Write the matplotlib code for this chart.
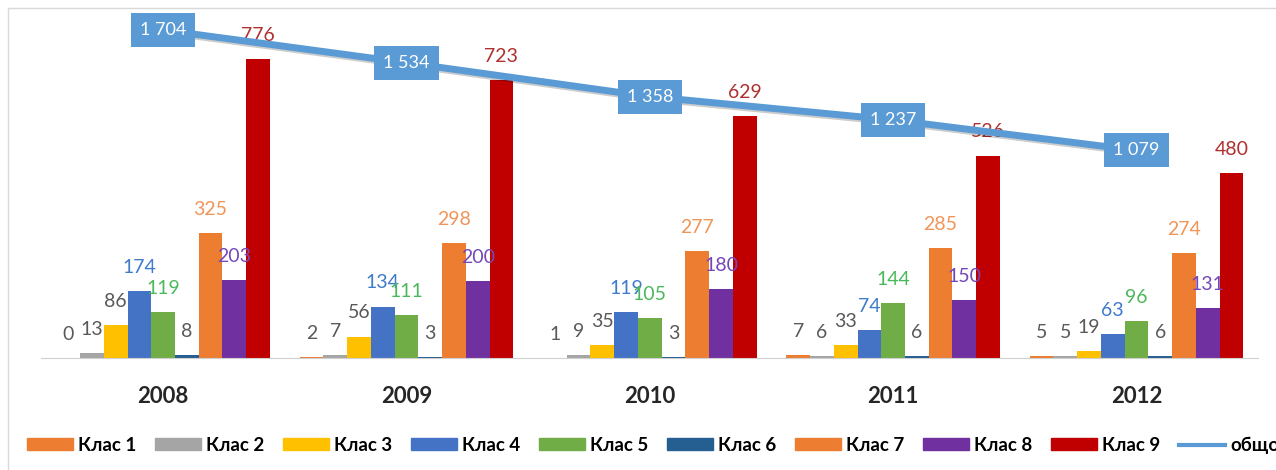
import numpy as np
import matplotlib
matplotlib.use('Agg')
import matplotlib.pyplot as plt
from matplotlib.patches import Rectangle, Patch
from matplotlib.lines import Line2D
import matplotlib.patheffects as pe

plt.rcParams['font.family'] = ['Lato', 'Open Sans', 'DejaVu Sans']

# данни
years = ['2008', '2009', '2010', '2011', '2012']
klas_names = ['Клас 1', 'Клас 2', 'Клас 3', 'Клас 4', 'Клас 5',
              'Клас 6', 'Клас 7', 'Клас 8', 'Клас 9']
klas1 = [0, 2, 1, 7, 5]
klas2 = [13, 7, 9, 6, 5]
klas3 = [86, 56, 35, 33, 19]
klas4 = [174, 134, 119, 74, 63]
klas5 = [119, 111, 105, 144, 96]
klas6 = [8, 3, 3, 6, 6]
klas7 = [325, 298, 277, 285, 274]
klas8 = [203, 200, 180, 150, 131]
klas9 = [776, 723, 629, 526, 480]
obshto = [1704, 1534, 1358, 1237, 1079]

series = [klas1, klas2, klas3, klas4, klas5, klas6, klas7, klas8, klas9]
bar_colors = ['#ED7D31', '#A5A5A5', '#FFC000', '#4472C4', '#70AD47',
              '#255E91', '#ED7D31', '#7030A0', '#C00000']
label_colors = ['#595959', '#595959', '#595959', '#3F7BCB', '#4CB85C',
                '#595959', '#F0955A', '#7548B8', '#B03030']
line_color = '#5B9BD5'

fig = plt.figure(figsize=(12.76, 4.70), dpi=100)
ax = fig.add_axes([0.0325, 0.238, 0.9535, 0.7375])
ax2 = ax.twinx()

x = np.arange(len(years))
w = 0.0975
for i, vals in enumerate(series):
    pos = x + (i - 4) * w
    ax.bar(pos, vals, width=w, color=bar_colors[i], zorder=2)
    for px, v in zip(pos, vals):
        ax.annotate(str(v), (px, v), xytext=(0, 17), textcoords='offset points',
                    ha='center', va='center', fontsize=14, color=label_colors[i])

ax.set_xlim(-0.5, 4.5)
ax.set_ylim(0, 900)
ax.set_xticks(x)
ax.set_xticklabels(years, fontsize=16, fontweight='bold', color='#262626')
ax.tick_params(axis='x', length=0, pad=20)
ax.set_yticks([])
for s in ['top', 'left', 'right']:
    ax.spines[s].set_visible(False)
ax.spines['bottom'].set_color('#D0D0D0')

ax2.plot(x, obshto, color=line_color, lw=5, solid_capstyle='butt',
         path_effects=[pe.SimpleLineShadow(offset=(1.5, -1.5), alpha=0.2), pe.Normal()])
for px, v in zip(x, obshto):
    txt = f'{v:,}'.replace(',', ' ')
    ax2.annotate(txt, (px, v), ha='center', va='center', fontsize=13, color='white',
                 bbox=dict(boxstyle='square,pad=0.5', fc=line_color, ec='none'))
ax2.set_ylim(0, 1800)
ax2.set_yticks([])
for s in ['top', 'left', 'right', 'bottom']:
    ax2.spines[s].set_visible(False)

# рамка на диаграмата
fig.patches.append(Rectangle((8 / 1276, -0.1), 1.2, 1 - 8 / 470 + 0.1,
                             transform=fig.transFigure, fill=False,
                             ec='#D9D9D9', lw=1))

handles = [Patch(color=c) for c in bar_colors]
handles.append(Line2D([0], [0], color=line_color, lw=3))
labels = klas_names + ['общо']
fig.legend(handles, labels, loc='center left', bbox_to_anchor=(0.008, 0.053),
           ncol=10, frameon=False, handlelength=2.45, handleheight=0.55,
           handletextpad=0.27, columnspacing=1.0,
           prop={'size': 13.5, 'weight': 'bold'})

fig.savefig('out.png', dpi=100)
